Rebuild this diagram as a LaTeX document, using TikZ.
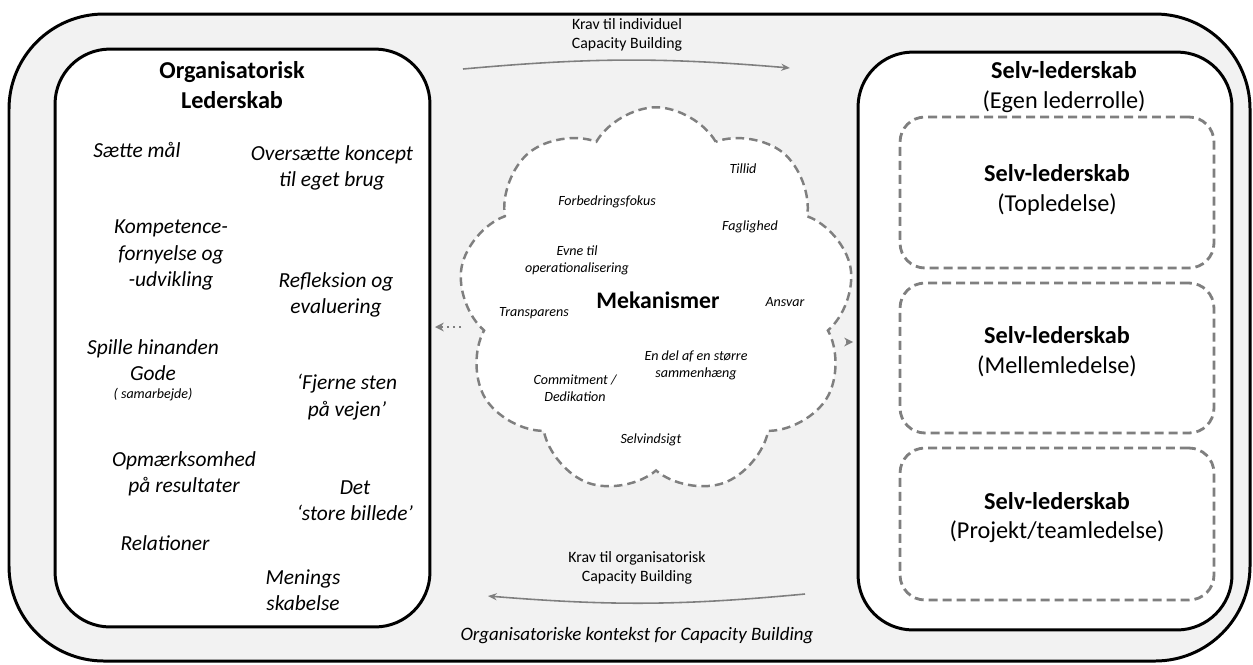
\documentclass[tikz,border=0pt]{standalone}
\usepackage{fontspec}
\setmainfont{Carlito}
\usetikzlibrary{shapes.symbols,arrows.meta}
\definecolor{Paper}{rgb}{0.949, 0.949, 0.949}
\definecolor{Ash}{rgb}{0.498, 0.498, 0.498}

\begin{document}
\begin{tikzpicture}[
  x=0.02cm, y=-0.02cm,
  every node/.style={inner sep=1pt, align=center},
  item/.style={font=\fontsize{12.2}{15}\selectfont\itshape},
  head/.style={font=\fontsize{13.8}{17}\selectfont},
  mech/.style={font=\fontsize{8}{9.5}\selectfont\itshape},
  note/.style={font=\fontsize{9}{10.5}\selectfont},
  panel/.style={draw=black, fill=white, line width=1.7pt, rounded corners=1.1cm},
  level/.style={draw=Ash, line width=1.6pt, dash pattern=on 0.18cm off 0.1cm,
                rounded corners=0.5cm, minimum width=6.28cm},
  flow/.style={draw=Ash, line width=0.9pt, -{Stealth[length=5pt, width=4pt]}},
  hint/.style={draw=Ash, line width=1.4pt, dotted, shorten >=2pt,
               -{Stealth[length=5pt, width=5pt]}}
]

% Page size in px units (1px = 0.02cm)
\useasboundingbox (0,0) rectangle (1253,664);

% ============================================================
% Outer frame: organisational context
% ============================================================
\draw[line width=1.7pt, fill=Paper, rounded corners=1.9cm] (9,14) rectangle (1250,661);

\node[font=\fontsize{10.8}{13}\selectfont\itshape] (ctx) at (637,636)
  {Organisatoriske kontekst for Capacity Building};

% ============================================================
% Left panel: organisational leadership
% ============================================================
\node[panel, minimum width=7.5cm, minimum height=11.56cm] (org) at (242.5,338) {};

\node[head, font=\fontsize{13.8}{17}\selectfont\bfseries] (orgtitle) at (232,85)
  {Organisatorisk\\Lederskab};

\node[item] (maal)    at (137,150) {Sætte mål};
\node[item] (koncept) at (332,168) {Oversætte koncept\\til eget brug};
\node[item] (komp)    at (171,255) {Kompetence-\\fornyelse og\\-udvikling};
\node[item] (refl)    at (336,295) {Refleksion og\\evaluering};
\node[item] (spille)  at (153,360) {Spille hinanden\\Gode};
\node[mech] (samarb)  at (153,395) {( samarbejde)};
\node[item] (sten)    at (347,397) {‘Fjerne sten\\på vejen’};
\node[item] (opm)     at (184,474) {Opmærksomhed\\på resultater};
\node[item] (billede) at (355,501) {Det\\‘store billede’};
\node[item] (rel)     at (165,543) {Relationer};
\node[item] (mening)  at (303,590) {Menings\\skabelse};

% ============================================================
% Right panel: self-leadership levels
% ============================================================
\node[panel, minimum width=7.48cm, minimum height=11.56cm] (self) at (1045,341) {};

\node[head] (selftitle) at (1064,87) {\textbf{Selv-lederskab}\\(Egen lederrolle)};

\node[level, minimum height=3.02cm] (top)  at (1057,192.5) {};
\node[level, minimum height=3.00cm] (mid)  at (1057,358) {};
\node[level, minimum height=3.04cm] (team) at (1057,524) {};

\node[head] (toptxt)  at (1057,190)   {\textbf{Selv-lederskab}\\(Topledelse)};
\node[head] (midtxt)  at (1057,352)   {\textbf{Selv-lederskab}\\(Mellemledelse)};
\node[head] (teamtxt) at (1057,517.5) {\textbf{Selv-lederskab}\\(Projekt/teamledelse)};

% ============================================================
% Centre: cloud of mechanisms
% ============================================================
\node[cloud, cloud puffs=9, cloud puff arc=120, aspect=1.03,
      draw=Ash, fill=white, line width=1.4pt, dash pattern=on 0.17cm off 0.1cm,
      minimum width=7.9cm, minimum height=7.75cm] (mek) at (656,301) {};

\node[font=\fontsize{13.5}{16}\selectfont\bfseries] (mektxt) at (658,300) {Mekanismer};

\node[mech] (tillid)  at (743,169) {Tillid};
\node[mech] (forbed)  at (607,202) {Forbedringsfokus};
\node[mech] (fag)     at (750,227) {Faglighed};
\node[mech] (evne)    at (577,260) {Evne til\\operationalisering};
\node[mech] (ansvar)  at (785,302) {Ansvar};
\node[mech] (transp)  at (534,313) {Transparens};
\node[mech] (helhed)  at (696,365) {En del af en større\\sammenhæng};
\node[mech] (commit)  at (575,388) {Commitment /\\Dedikation};
\node[mech] (indsigt) at (651,440) {Selvindsigt};

% ============================================================
% Connectors
% ============================================================
\coordinate (ta) at (463,69);
\coordinate (tb) at (790,68);
\draw[flow] (ta) to[bend left=5] (tb);
\node[note] (kravind) at (627,35) {Krav til individuel\\Capacity Building};

\coordinate (ba) at (805,594);
\coordinate (bb) at (488,596);
\draw[flow] (ba) to[bend left=5] (bb);
\node[note] (kravorg) at (637,568) {Krav til organisatorisk\\Capacity Building};

\coordinate (hl) at (461,327);
\coordinate (hr) at (846,342);
\draw[hint] (hl) -- (org.east |- hl);
\draw[hint] (hr) -- (self.west |- hr);

\end{tikzpicture}
\end{document}
